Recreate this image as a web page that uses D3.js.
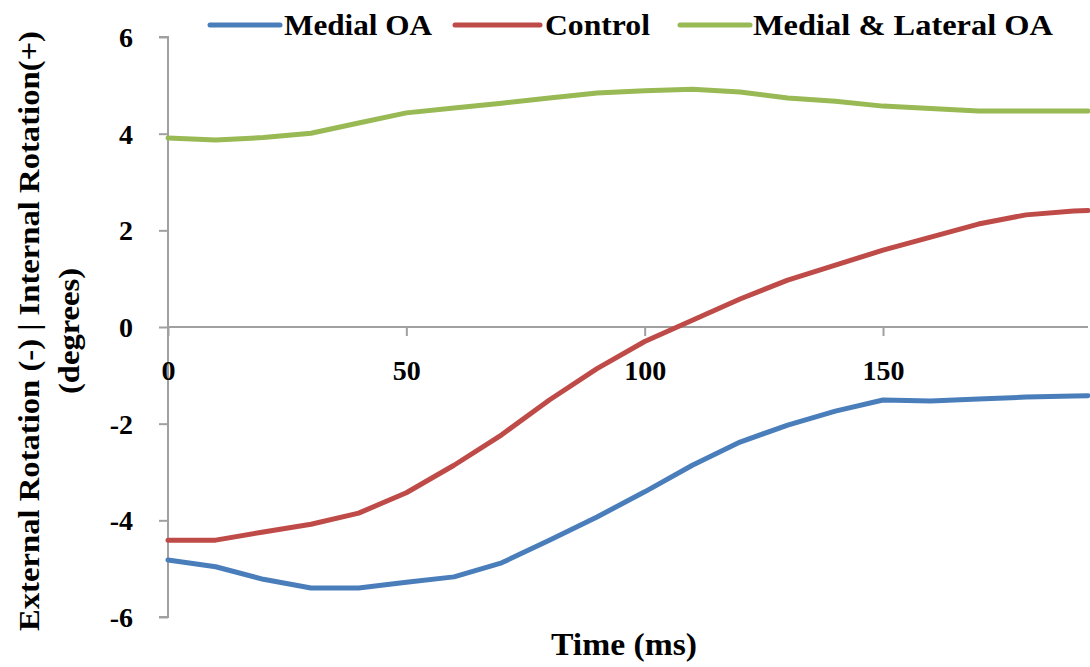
<!DOCTYPE html>
<html><head><meta charset="utf-8">
<script src="https://cdn.jsdelivr.net/npm/d3@7"></script>
<style>body{margin:0;background:#fff}svg{display:block}text{font-family:"Liberation Serif","Times New Roman",serif;font-weight:bold;fill:#000}</style>
</head><body><div id="chart"></div>
<script>
const times = [0,10,20,30,40,50,60,70,80,90,100,110,120,130,140,150,160,170,180,190,193];
const medialOA = [-4.82,-4.96,-5.22,-5.40,-5.40,-5.28,-5.17,-4.88,-4.41,-3.93,-3.41,-2.86,-2.38,-2.03,-1.74,-1.51,-1.53,-1.49,-1.45,-1.43,-1.42];
const control = [-4.41,-4.41,-4.24,-4.08,-3.85,-3.43,-2.86,-2.23,-1.51,-0.86,-0.30,0.14,0.58,0.97,1.28,1.59,1.86,2.13,2.32,2.40,2.41];
const medialLateralOA = [3.91,3.87,3.92,4.01,4.22,4.43,4.53,4.63,4.74,4.84,4.89,4.92,4.86,4.74,4.67,4.57,4.52,4.47,4.47,4.47,4.47];
const seriesNames = ["Medial OA","Control","Medial & Lateral OA"];
const seriesColors = ["#4a7ebb","#be4b48","#98b954"];
const xTicks = [0,50,100,150];
const yTicks = [-6,-4,-2,0,2,4,6];

const W=1090,H=667;
const svg=d3.select("#chart").append("svg").attr("width",W).attr("height",H);
const x=d3.scaleLinear().domain([0,193]).range([168,1088]);
const y=d3.scaleLinear().domain([-6,6]).range([617,37]);
const fmt=d=>String(d);

// y axis
const ya=svg.append("g").attr("transform",`translate(${x(0)},0)`)
  .call(d3.axisLeft(y).tickValues(yTicks).tickSize(9).tickPadding(26).tickFormat(fmt));
ya.attr("font-family",null).attr("font-size",null);
ya.select(".domain").attr("stroke","#a0a0a0").attr("stroke-width",2).attr("d",`M-9,${y(6)}H0V${y(-6)}H-9`);
ya.selectAll(".tick line").attr("stroke","#a0a0a0").attr("stroke-width",2);
ya.selectAll(".tick text").attr("font-size",28).attr("fill","#000").attr("dy","0.34em");

// x axis at y=0
const xa=svg.append("g").attr("transform",`translate(0,${y(0)})`)
  .call(d3.axisBottom(x).tickValues(xTicks).tickSize(9).tickPadding(24).tickFormat(fmt));
xa.attr("font-family",null).attr("font-size",null);
xa.select(".domain").attr("stroke","#a0a0a0").attr("stroke-width",2).attr("d",`M${x(0)},0H${x(193)}`);
xa.selectAll(".tick line").attr("stroke","#a0a0a0").attr("stroke-width",2);
xa.selectAll(".tick text").attr("font-size",28).attr("fill","#000");

// lines
const data=[medialOA,control,medialLateralOA];
const line=d3.line().x((d,i)=>x(times[i])).y(d=>y(d));
data.forEach((s,k)=>{
  svg.append("path").datum(s).attr("d",line).attr("fill","none")
    .attr("stroke",seriesColors[k]).attr("stroke-width",5).attr("stroke-linejoin","round").attr("stroke-linecap","round");
});

// legend
const legPos=[[210,280,284,148],[455,540,545,105],[680,750,753,300]];
seriesNames.forEach((n,k)=>{
  const p=legPos[k];
  svg.append("line").attr("x1",p[0]).attr("x2",p[1]).attr("y1",25).attr("y2",25)
    .attr("stroke",seriesColors[k]).attr("stroke-width",5).attr("stroke-linecap","round");
  svg.append("text").attr("x",p[2]).attr("y",35).attr("font-size",30)
    .attr("textLength",p[3]).attr("lengthAdjust","spacingAndGlyphs").text(n);
});

// axis titles
svg.append("text").attr("x",624).attr("y",655).attr("text-anchor","middle").attr("font-size",32)
  .attr("textLength",146).attr("lengthAdjust","spacingAndGlyphs").text("Time (ms)");
svg.append("text").attr("transform","translate(39,331) rotate(-90)").attr("text-anchor","middle").attr("font-size",30)
  .attr("textLength",600).attr("lengthAdjust","spacingAndGlyphs").text("External Rotation (-) | Internal Rotation(+)");
svg.append("text").attr("transform","translate(79,331) rotate(-90)").attr("text-anchor","middle").attr("font-size",30)
  .attr("textLength",126).attr("lengthAdjust","spacingAndGlyphs").text("(degrees)");
</script></body></html>
